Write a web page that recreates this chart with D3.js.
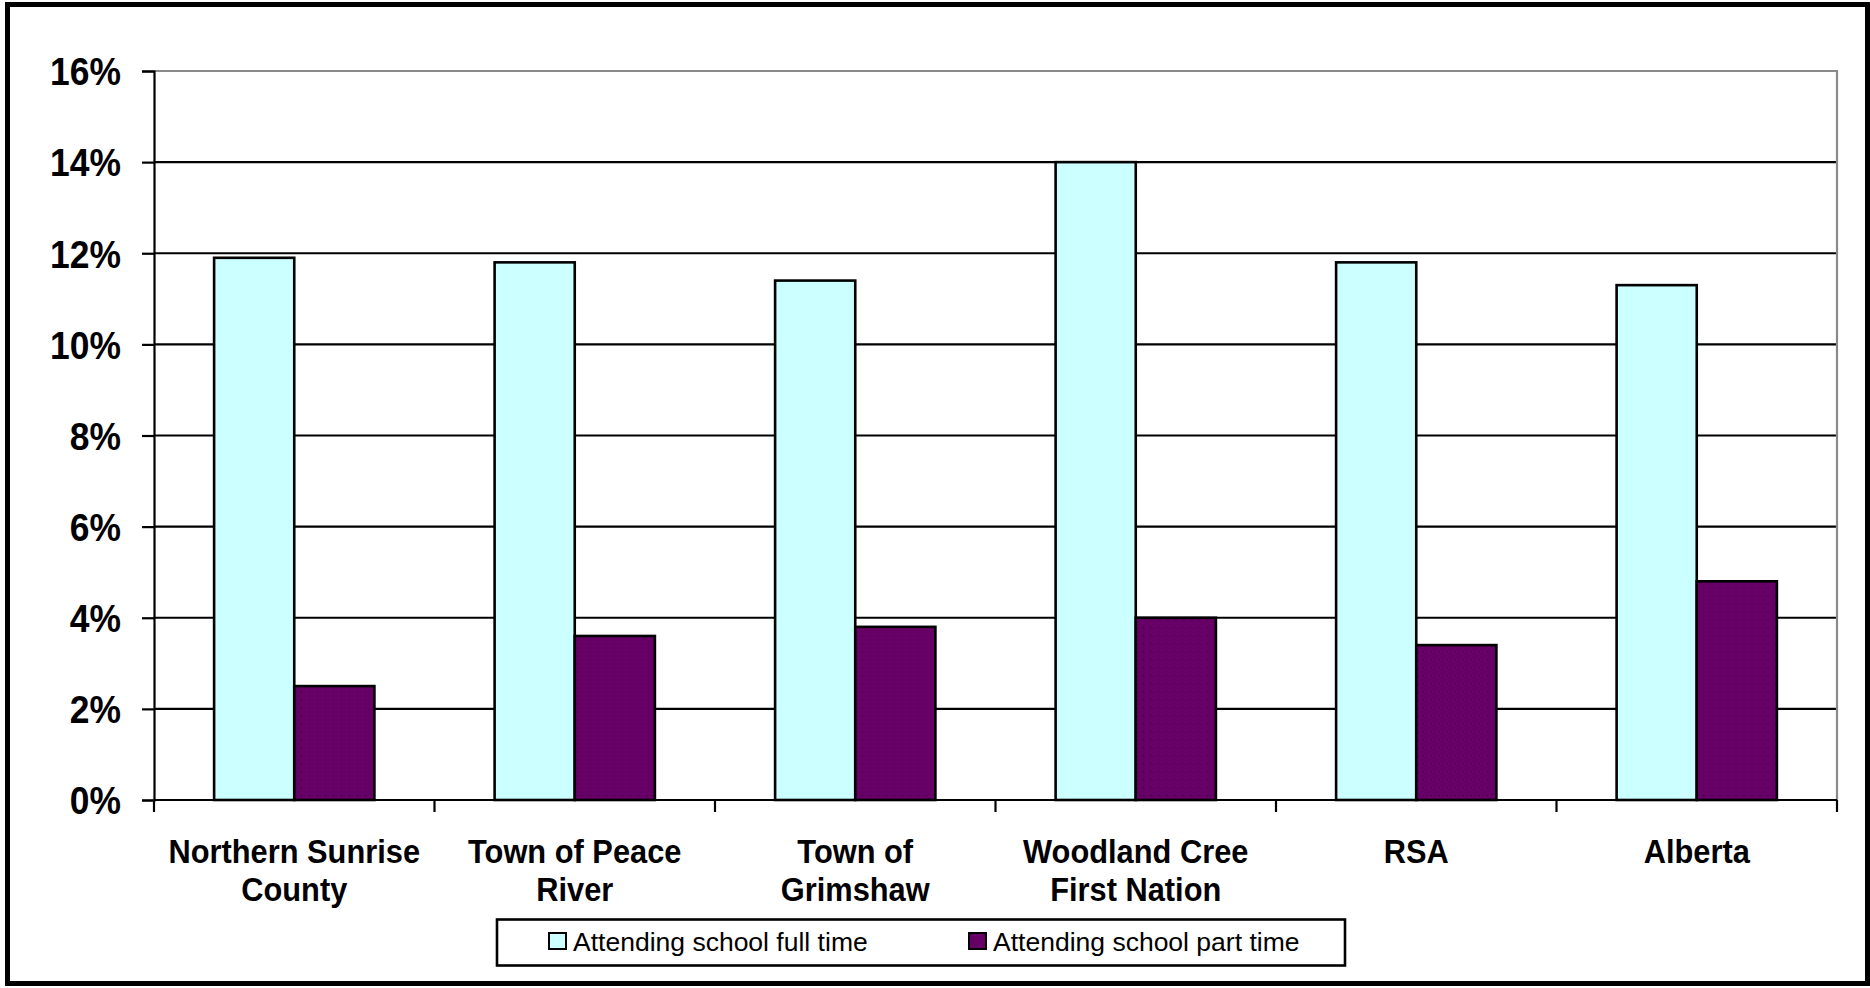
<!DOCTYPE html>
<html>
<head>
<meta charset="utf-8">
<script src="https://cdn.jsdelivr.net/npm/d3@7"></script>
<style>
  html, body { margin: 0; padding: 0; background: #fff; }
  svg { display: block; }
</style>
</head>
<body>
<svg id="chart" width="1870" height="988"></svg>
<script>
// School attendance share by area
const categories = [
  ["Northern Sunrise", "County"],
  ["Town of Peace", "River"],
  ["Town of", "Grimshaw"],
  ["Woodland Cree", "First Nation"],
  ["RSA"],
  ["Alberta"]
];
const seriesNames = ["Attending school full time", "Attending school part time"];
const fullTime = [11.9, 11.8, 11.4, 14.0, 11.8, 11.3];
const partTime = [2.5, 3.6, 3.8, 4.0, 3.4, 4.8];
const yTicks = [0, 2, 4, 6, 8, 10, 12, 14, 16];
const seriesColors = ["#CCFFFF", "#660066"];

const svg = d3.select("#chart");
const plot = { left: 154, right: 1837, top: 71, bottom: 800 };
const FONT = "'Liberation Sans', Arial, sans-serif";

// Outer frame
svg.append("rect")
  .attr("x", 7.5).attr("y", 4.5)
  .attr("width", 1860).attr("height", 979)
  .attr("fill", "#fff").attr("stroke", "#000").attr("stroke-width", 5);

// Dotted texture for the part-time bars
const defs = svg.append("defs");
const pat = defs.append("pattern")
  .attr("id", "dots").attr("patternUnits", "userSpaceOnUse")
  .attr("width", 8).attr("height", 8);
pat.append("rect").attr("width", 8).attr("height", 8).attr("fill", seriesColors[1]);
pat.append("rect").attr("x", 3).attr("y", 3).attr("width", 1).attr("height", 1).attr("fill", "#2b002b");

const catKeys = categories.map(c => c.join(" "));
const x = d3.scaleBand().domain(catKeys).range([plot.left, plot.right]).padding(0);
const bw = x.bandwidth();
const barW = bw / 3.5;
const xs = d3.scaleBand().domain([0, 1]).range([0.75 * barW, 2.75 * barW]).padding(0);
const y = d3.scaleLinear().domain([0, 16]).range([plot.bottom, plot.top]);

// Gridlines
svg.append("g")
  .selectAll("line")
  .data(yTicks.filter(t => t > 0 && t < 16))
  .join("line")
  .attr("x1", plot.left).attr("x2", plot.right)
  .attr("y1", d => y(d)).attr("y2", d => y(d))
  .attr("stroke", "#000").attr("stroke-width", 2.2);

// Plot-area border (top and right)
svg.append("path")
  .attr("d", `M${plot.left},${y(16)}H${plot.right}V${plot.bottom}`)
  .attr("fill", "none").attr("stroke", "#8a8a8a").attr("stroke-width", 2.2);

// Bars
const rows = catKeys.map((k, i) => ({ key: k, vals: [fullTime[i], partTime[i]] }));
const groups = svg.append("g").selectAll("g")
  .data(rows).join("g")
  .attr("transform", d => `translate(${x(d.key)},0)`);
groups.selectAll("rect")
  .data(d => d.vals.map((v, j) => ({ v, j })))
  .join("rect")
  .attr("x", d => xs(d.j))
  .attr("width", xs.bandwidth())
  .attr("y", d => y(d.v))
  .attr("height", d => y(0) - y(d.v))
  .attr("fill", d => d.j === 0 ? seriesColors[0] : "url(#dots)")
  .attr("stroke", "#000").attr("stroke-width", 2.6);

// Y axis
const yAxis = d3.axisLeft(y).tickValues(yTicks).tickSize(12).tickFormat(d => d + "%");
const yg = svg.append("g").attr("transform", `translate(${plot.left},0)`).call(yAxis);
yg.select(".domain").attr("stroke", "#000").attr("stroke-width", 2.2);
yg.selectAll(".tick line").attr("stroke", "#000").attr("stroke-width", 2.2);
yg.selectAll(".tick text").remove();
yg.selectAll(".tick").append("g")
  .attr("transform", "translate(-33,0) scale(0.92,1)")
  .append("text")
  .attr("text-anchor", "end")
  .attr("dy", "0.36em")
  .attr("fill", "#000")
  .style("font-family", FONT)
  .style("font-weight", "bold")
  .style("font-size", "38.5px")
  .text(d => d + "%");

// X axis baseline with category-boundary ticks
svg.append("line")
  .attr("x1", plot.left).attr("x2", plot.right)
  .attr("y1", plot.bottom).attr("y2", plot.bottom)
  .attr("stroke", "#000").attr("stroke-width", 2.2);
const bounds = catKeys.map(k => x(k)).concat([plot.right]);
svg.append("g").selectAll("line")
  .data(bounds).join("line")
  .attr("x1", d => d).attr("x2", d => d)
  .attr("y1", plot.bottom).attr("y2", plot.bottom + 12)
  .attr("stroke", "#000").attr("stroke-width", 2.2);

// Category labels
const lab = svg.append("g").selectAll("g")
  .data(categories).join("g")
  .attr("transform", (d, i) => `translate(${x(catKeys[i]) + bw / 2},863) scale(0.92,1)`);
lab.append("text")
  .attr("text-anchor", "middle")
  .attr("fill", "#000")
  .style("font-family", FONT)
  .style("font-weight", "bold")
  .style("font-size", "33.5px")
  .selectAll("tspan")
  .data(d => d).join("tspan")
  .attr("x", 0)
  .attr("y", (d, i) => i * 38)
  .text(d => d);

// Legend
const legend = svg.append("g");
legend.append("rect")
  .attr("x", 497).attr("y", 919.5)
  .attr("width", 848).attr("height", 46)
  .attr("fill", "#fff").attr("stroke", "#000").attr("stroke-width", 2.6);
const legendX = [549, 969];
seriesNames.forEach((name, i) => {
  legend.append("rect")
    .attr("x", legendX[i]).attr("y", 933)
    .attr("width", 17).attr("height", 16)
    .attr("fill", seriesColors[i]).attr("stroke", "#000").attr("stroke-width", 2);
  legend.append("g")
    .attr("transform", `translate(${legendX[i] + 24},950.5) scale(1.02,1)`)
    .append("text")
    .attr("fill", "#000")
    .style("font-family", FONT)
    .style("font-size", "26px")
    .text(name);
});
</script>
</body>
</html>
